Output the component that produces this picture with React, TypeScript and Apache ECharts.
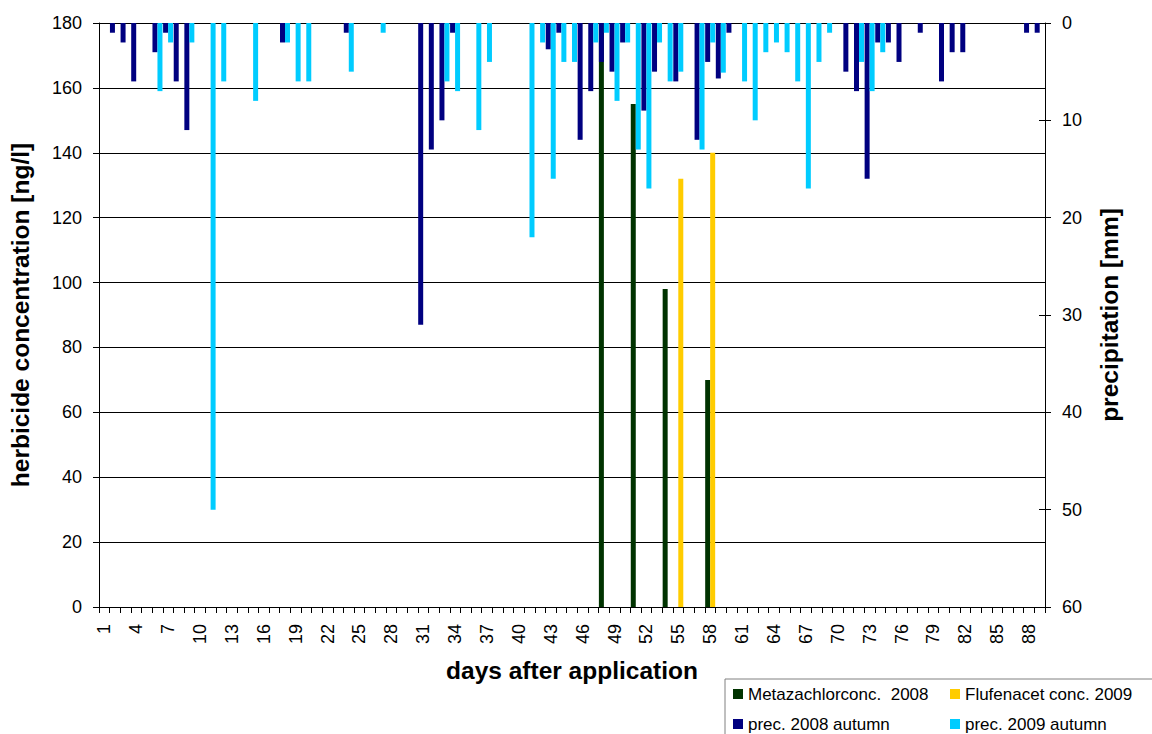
import React, { useEffect, useRef } from "react";
import * as echarts from "echarts";

const FONT = "'Liberation Sans', Arial, Helvetica, sans-serif";

// categories: days after application
const days: string[] = [
  "1", "2", "3", "4", "5", "6", "7", "8", "9", "10",
  "11", "12", "13", "14", "15", "16", "17", "18", "19", "20",
  "21", "22", "23", "24", "25", "26", "27", "28", "29", "30",
  "31", "32", "33", "34", "35", "36", "37", "38", "39", "40",
  "41", "42", "43", "44", "45", "46", "47", "48", "49", "50",
  "51", "52", "53", "54", "55", "56", "57", "58", "59", "60",
  "61", "62", "63", "64", "65", "66", "67", "68", "69", "70",
  "71", "72", "73", "74", "75", "76", "77", "78", "79", "80",
  "81", "82", "83", "84", "85", "86", "87", "88", "89",
];

// herbicide concentration [ng/l] : [day, value]
const metazachlor2008: [number, number][] = [
  [48, 180], [51, 155], [54, 98], [58, 70],
];
const flufenacet2009: [number, number][] = [
  [55, 132], [58, 140],
];

// precipitation [mm] : [day, value]
const prec2008Autumn: [number, number][] = [
  [2, 1], [3, 2], [4, 6], [6, 3], [7, 1], [8, 6], [9, 11], [18, 2], [24, 1],
  [31, 31], [32, 13], [33, 10], [34, 1], [43, 2.7], [44, 1], [46, 12], [47, 7],
  [48, 4], [49, 5], [50, 2], [52, 9], [53, 5], [55, 6], [57, 12], [58, 4],
  [59, 5.7], [60, 1], [71, 5], [72, 7], [73, 16], [74, 2], [75, 2], [76, 4],
  [78, 1], [80, 6], [81, 3], [82, 3], [88, 1], [89, 1],
];
const prec2009Autumn: [number, number][] = [
  [6, 7], [7, 2], [9, 2], [11, 50], [12, 6], [15, 8], [18, 2], [19, 6], [20, 6],
  [24, 5], [27, 1], [33, 6], [34, 7], [36, 11], [37, 4], [41, 22], [42, 2],
  [43, 16], [44, 4], [45, 4], [47, 2], [48, 1], [49, 8], [50, 2], [51, 13],
  [52, 17], [53, 2], [54, 6], [55, 5], [57, 13], [58, 2], [59, 5.1], [61, 6],
  [62, 10], [63, 3], [64, 2], [65, 3], [66, 6], [67, 17], [68, 4], [69, 1],
  [72, 4], [73, 7], [74, 3],
];

const seriesNames = [
  "Metazachlorconc.  2008",
  "Flufenacet conc. 2009",
  "prec. 2008 autumn",
  "prec. 2009 autumn",
];
const seriesColors = ["#003300", "#FFCC00", "#000080", "#00CCFF"];

function toSeries(points: [number, number][]): (number | null)[] {
  const arr: (number | null)[] = days.map(() => null);
  points.forEach(([d, v]) => {
    arr[d - 1] = v;
  });
  return arr;
}

export default function App() {
  const ref = useRef<HTMLDivElement>(null);

  useEffect(() => {
    if (!ref.current) return;
    const chart = echarts.init(ref.current, undefined, { renderer: "svg" });
    const labelStyle = { fontSize: 18, color: "#000", fontFamily: FONT };
    const titleStyle = {
      fontSize: 24.5,
      fontWeight: "bold" as const,
      color: "#000",
      fontFamily: FONT,
    };
    const bar = (i: number, data: [number, number][], axis: number) => ({
      name: seriesNames[i],
      type: "bar" as const,
      xAxisIndex: axis,
      yAxisIndex: axis,
      data: toSeries(data),
      barWidth: 5,
      barGap: "0%",
      itemStyle: { color: seriesColors[i] },
    });
    chart.setOption({
      animation: false,
      backgroundColor: "#fff",
      textStyle: { fontFamily: FONT },
      grid: { left: 99, top: 23, width: 946, height: 584, containLabel: false },
      legend: {
        data: seriesNames,
        left: 725,
        top: 679,
        width: 430,
        padding: [6, 8, 10, 8],
        itemWidth: 10,
        itemHeight: 10,
        itemGap: 12,
        icon: "rect",
        borderColor: "#808080",
        borderWidth: 1,
        selectedMode: false,
        textStyle: {
          fontSize: 17,
          color: "#000",
          fontFamily: FONT,
          width: 190,
          lineHeight: 18,
        },
      },
      xAxis: [
        {
          type: "category",
          data: days,
          position: "bottom",
          axisLine: { onZero: false, lineStyle: { color: "#000", width: 1 } },
          axisTick: { show: true, interval: 0, length: 6, lineStyle: { color: "#000" } },
          axisLabel: { ...labelStyle, interval: 2, rotate: 90, margin: 17 },
          splitLine: { show: false },
          name: "days after application",
          nameLocation: "middle",
          nameGap: 51,
          nameTextStyle: titleStyle,
        },
        {
          type: "category",
          data: days,
          show: false,
        },
      ],
      yAxis: [
        {
          type: "value",
          min: 0,
          max: 180,
          interval: 20,
          position: "left",
          axisLine: { show: true, lineStyle: { color: "#000" } },
          axisTick: { show: true, length: 6, lineStyle: { color: "#000" } },
          axisLabel: { ...labelStyle, margin: 17 },
          splitLine: { show: true, lineStyle: { color: "#000", width: 1 } },
          name: "herbicide concentration [ng/l]",
          nameLocation: "middle",
          nameRotate: 90,
          nameGap: 66,
          nameTextStyle: titleStyle,
        },
        {
          type: "value",
          min: 0,
          max: 60,
          interval: 10,
          inverse: true,
          position: "right",
          axisLine: { show: true, lineStyle: { color: "#000" } },
          axisTick: { show: true, length: 6, lineStyle: { color: "#000" } },
          axisLabel: { ...labelStyle, margin: 17 },
          splitLine: { show: false },
          name: "precipitation [mm]",
          nameLocation: "middle",
          nameRotate: 90,
          nameGap: 52,
          nameTextStyle: titleStyle,
        },
        {
          type: "value",
          min: 0,
          max: 60,
          interval: 10,
          inverse: true,
          position: "right",
          axisLine: { show: false },
          axisTick: { show: true, inside: true, length: 6, lineStyle: { color: "#000" } },
          axisLabel: { show: false },
          splitLine: { show: false },
        },
      ],
      series: [
        bar(0, metazachlor2008, 0),
        bar(1, flufenacet2009, 0),
        bar(2, prec2008Autumn, 1),
        bar(3, prec2009Autumn, 1),
      ],
    });
    return () => chart.dispose();
  }, []);

  return (
    <div
      ref={ref}
      style={{ position: "fixed", left: 0, top: 0, width: 1152, height: 734 }}
    />
  );
}
